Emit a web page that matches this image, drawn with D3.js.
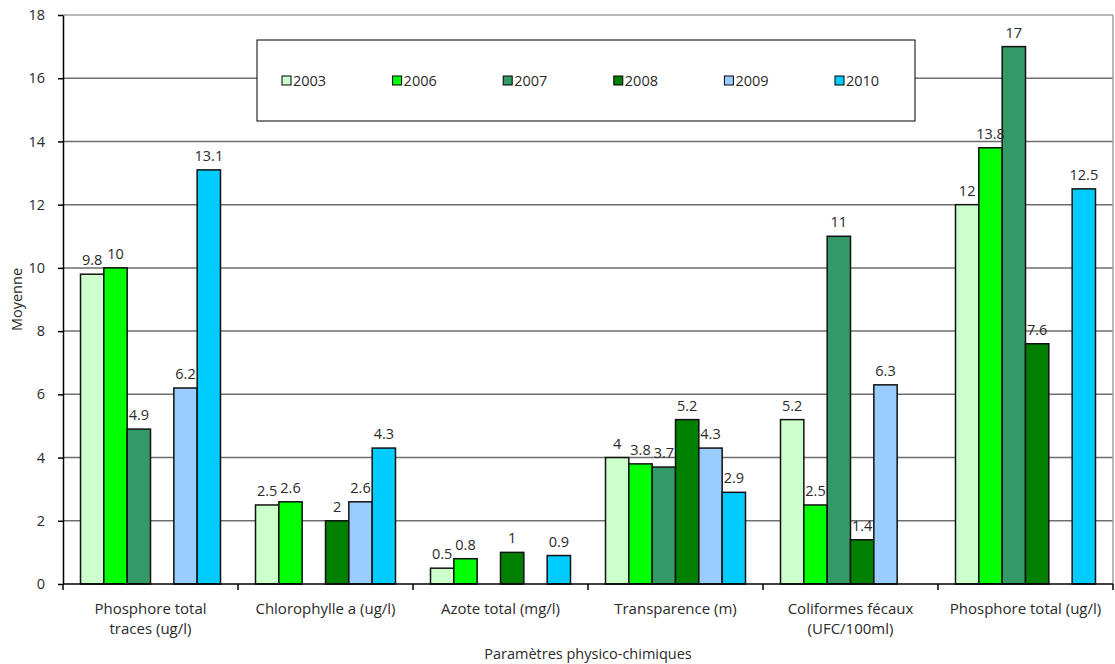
<!DOCTYPE html>
<html>
<head>
<meta charset="utf-8">
<script src="https://cdn.jsdelivr.net/npm/d3@7"></script>
<style>
  body { margin: 0; background: #fff; }
  text { font-family: "Open Sans", "DejaVu Sans", sans-serif; fill: #2a2a2a; }
</style>
</head>
<body>
<div class="container"></div>
<script>
// categories and series (null = no value for that year)
var categories = [
  ["Phosphore total", "traces (ug/l)"],
  ["Chlorophylle a (ug/l)"],
  ["Azote total (mg/l)"],
  ["Transparence (m)"],
  ["Coliformes fécaux", "(UFC/100ml)"],
  ["Phosphore total (ug/l)"]
];
var years = ["2003", "2006", "2007", "2008", "2009", "2010"];
var v2003 = [9.8, 2.5, 0.5, 4, 5.2, 12];
var v2006 = [10, 2.6, 0.8, 3.8, 2.5, 13.8];
var v2007 = [4.9, null, null, 3.7, 11, 17];
var v2008 = [null, 2, 1, 5.2, 1.4, 7.6];
var v2009 = [6.2, 2.6, null, 4.3, 6.3, null];
var v2010 = [13.1, 4.3, 0.9, 2.9, null, 12.5];
var yTicks = [0, 2, 4, 6, 8, 10, 12, 14, 16, 18];
var colors = ["#ccffcc", "#00ff00", "#339966", "#008000", "#99ccff", "#00ccff"];

var series = [v2003, v2006, v2007, v2008, v2009, v2010];

var width = 1115, height = 664;
var margin = {left: 63, right: 2, top: 15, bottom: 80};

var svg = d3.select(".container").append("svg")
  .attr("width", width).attr("height", height);

var x0 = d3.scaleBand()
  .domain(d3.range(categories.length))
  .range([margin.left, width - margin.right])
  .paddingInner(0).paddingOuter(0);

var x1 = d3.scaleBand()
  .domain(years)
  .range([0, x0.bandwidth()])
  .paddingOuter(0.75).paddingInner(0);

var y = d3.scaleLinear().domain([0, 18]).range([height - margin.bottom, margin.top]);

// gridlines
svg.append("g").selectAll("line")
  .data(yTicks.filter(function(t) { return t > 0; }))
  .enter().append("line")
  .attr("x1", margin.left).attr("x2", width - margin.right)
  .attr("y1", function(d) { return y(d); }).attr("y2", function(d) { return y(d); })
  .style("stroke", function(d) { return d == 18 ? "#a0a0a0" : "#6e6e6e"; })
  .style("stroke-width", 1.5);

// right border
svg.append("line")
  .attr("x1", width - margin.right).attr("x2", width - margin.right)
  .attr("y1", y(18)).attr("y2", y(0))
  .style("stroke", "#a0a0a0").style("stroke-width", 1.5);

// legend box
var legend = svg.append("g");
legend.append("rect")
  .attr("x", 257).attr("y", 40).attr("width", 658).attr("height", 81)
  .style("fill", "#fff").style("stroke", "#000").style("stroke-width", 1);
var lx = d3.scalePoint().domain(years).range([282, 835]);
var li = legend.selectAll("g.item").data(years).enter().append("g")
  .attr("transform", function(d) { return "translate(" + lx(d) + ",81)"; });
li.append("rect")
  .attr("x", 0).attr("y", -5).attr("width", 9).attr("height", 9)
  .style("fill", function(d, i) { return colors[i]; })
  .style("stroke", "#000").style("stroke-width", 1);
li.append("text")
  .attr("x", 11).attr("y", 5)
  .style("font-size", "14.5px")
  .text(function(d) { return d; });

// bars
var groups = svg.append("g").selectAll("g")
  .data(categories)
  .enter().append("g")
  .attr("transform", function(d, i) { return "translate(" + x0(i) + ",0)"; });

var barData = function(d, ci) {
  return years.map(function(yr, si) { return {year: yr, si: si, value: series[si][ci]}; })
    .filter(function(b) { return b.value !== null; });
};

groups.selectAll("rect")
  .data(barData)
  .enter().append("rect")
  .attr("x", function(d) { return x1(d.year); })
  .attr("width", x1.bandwidth())
  .attr("y", function(d) { return y(d.value); })
  .attr("height", function(d) { return y(0) - y(d.value); })
  .style("fill", function(d) { return colors[d.si]; })
  .style("stroke", "#111").style("stroke-width", 1.5);

groups.selectAll("text.val")
  .data(barData)
  .enter().append("text")
  .attr("class", "val")
  .attr("x", function(d) { return x1(d.year) + x1.bandwidth() / 2; })
  .attr("y", function(d) { return y(d.value) - 9; })
  .attr("text-anchor", "middle")
  .style("font-size", "14.5px")
  .text(function(d) { return d.value; });

// y axis
var yAxis = svg.append("g")
  .attr("transform", "translate(" + margin.left + ",0)")
  .call(d3.axisLeft(y).tickValues(yTicks).tickSize(5).tickPadding(13).tickSizeOuter(0));
yAxis.selectAll("text").style("font-size", "14.5px").style("fill", "#2a2a2a");
yAxis.selectAll("line, path").style("stroke", "#000").style("stroke-width", 1.5);

// x axis with ticks between categories
var xAxis = svg.append("g").attr("transform", "translate(0," + y(0) + ")");
xAxis.append("line")
  .attr("x1", margin.left).attr("x2", width - margin.right)
  .style("stroke", "#000").style("stroke-width", 1.5);
xAxis.selectAll("line.tick")
  .data(d3.range(categories.length + 1))
  .enter().append("line")
  .attr("class", "tick")
  .attr("x1", function(i) { return i < categories.length ? x0(i) : x0(i - 1) + x0.bandwidth(); })
  .attr("x2", function(i) { return i < categories.length ? x0(i) : x0(i - 1) + x0.bandwidth(); })
  .attr("y1", 0).attr("y2", 6)
  .style("stroke", "#000").style("stroke-width", 1.5);

var xl = xAxis.selectAll("text.cat")
  .data(categories)
  .enter().append("text")
  .attr("class", "cat")
  .attr("x", function(d, i) { return x0(i) + x0.bandwidth() / 2; })
  .attr("y", 30)
  .attr("text-anchor", "middle")
  .style("font-size", "15px");
xl.selectAll("tspan")
  .data(function(d) { return d; })
  .enter().append("tspan")
  .attr("x", function() { return d3.select(this.parentNode).attr("x"); })
  .attr("dy", function(d, i) { return i == 0 ? 0 : 20; })
  .text(function(d) { return d; });

// axis titles
svg.append("text")
  .attr("x", (margin.left + width - margin.right) / 2)
  .attr("y", 659)
  .attr("text-anchor", "middle")
  .style("font-size", "14.5px")
  .text("Paramètres physico-chimiques");

svg.append("text")
  .attr("transform", "translate(22," + y(9) + ") rotate(-90)")
  .attr("text-anchor", "middle")
  .style("font-size", "14.5px")
  .text("Moyenne");
</script>
</body>
</html>
